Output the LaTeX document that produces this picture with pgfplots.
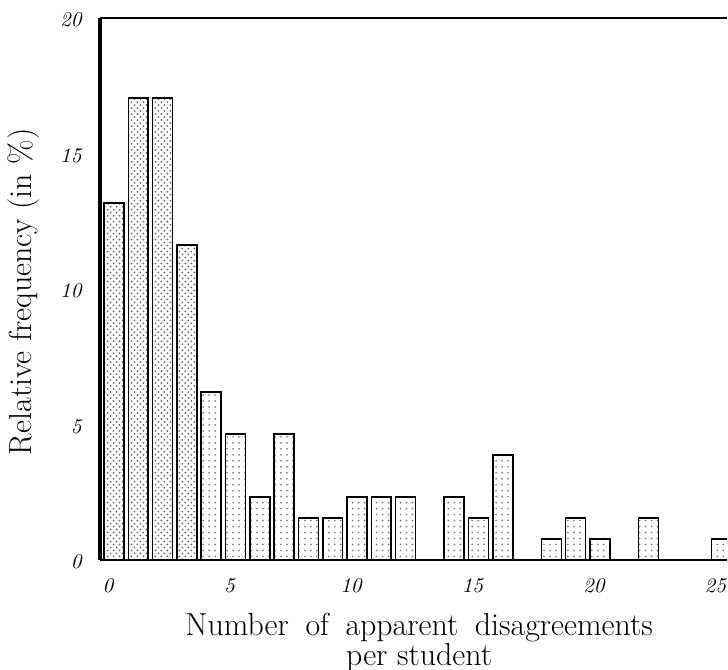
\documentclass[border=0pt]{standalone}
\usepackage{pgfplots}
\pgfplotsset{compat=1.18}
\usetikzlibrary{patterns}

\begin{document}
\begin{tikzpicture}
    \begin{axis}[
            name=ax,
            scale only axis,
            width=313.5bp,
            height=271bp,
            xmin=-0.576, xmax=25.23,
            ymin=0, ymax=20,
            axis x line*=box,
            axis y line*=left,
            x axis line style={line width=1.1bp},
            y axis line style={line width=1.7bp},
            xtick={0,5,...,25},
            ytick={0,5,...,20},
            major tick length=0pt,
            /pgf/number format/assume math mode=true,
            tick label style={font=\fontsize{10.5}{12}\selectfont\itshape, inner sep=0pt},
            xticklabel style={yshift=-9bp, xshift=-3bp},
            yticklabel style={xshift=-9bp, yshift=-1bp},
            xlabel={Number\hspace{0.52em}of\hspace{0.52em}apparent\hspace{0.52em}disagreements\\per student},
            xlabel style={font=\fontsize{16}{13}\selectfont, align=center, inner sep=0pt,
                    at={(axis description cs:0.509,-0.097)}, anchor=north},
            ylabel={Relative frequency (in \%)},
            ylabel style={font=\fontsize{16}{18}\selectfont, inner sep=0pt,
                    at={(axis description cs:-0.1085,0.495)}, anchor=base},
        ]
        % first four bars: denser stipple
        \addplot[ybar, bar shift=0pt, bar width=0.82, draw=black, line width=0.8bp,
            pattern=crosshatch dots, pattern color=black!60] coordinates {
                (0, 13.18)
                (1, 17.05)
                (2, 17.05)
                (3, 11.63)
            };
        \addplot[ybar, bar shift=0pt, bar width=0.82, draw=black, line width=0.8bp,
            pattern=dots, pattern color=black!50] coordinates {
                (4, 6.20)
                (5, 4.65)
                (6, 2.33)
                (7, 4.65)
                (8, 1.55)
                (9, 1.55)
                (10, 2.33)
                (11, 2.33)
                (12, 2.33)
                (14, 2.33)
                (15, 1.55)
                (16, 3.88)
                (18, 0.78)
                (19, 1.55)
                (20, 0.78)
                (22, 1.55)
                (25, 0.78)
            };
    \end{axis}
    \pgfresetboundingbox
    \path[use as bounding box] ([shift={(-50bp,-55bp)}]ax.south west) rectangle ([shift={(0.5bp,9bp)}]ax.north east);
\end{tikzpicture}
\end{document}
